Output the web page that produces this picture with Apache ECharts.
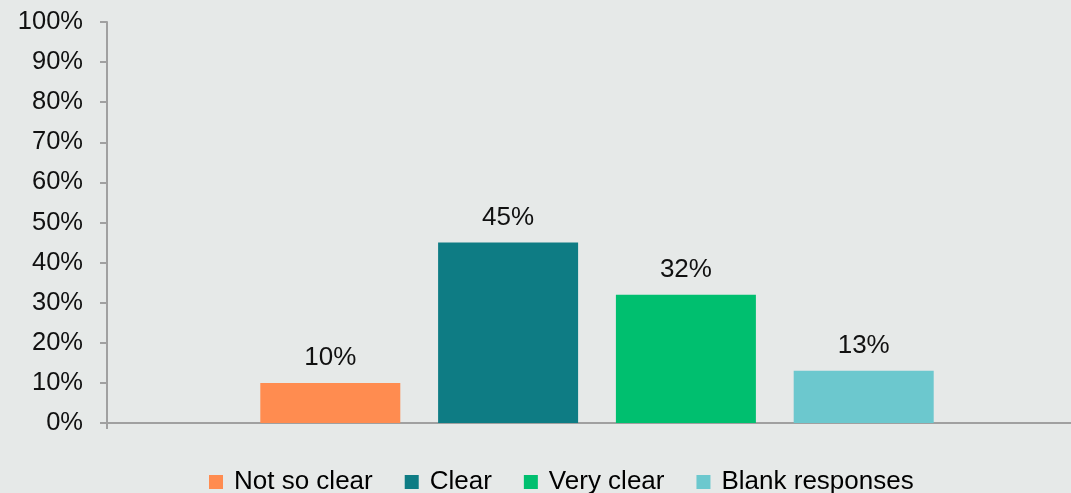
<!DOCTYPE html>
<html>
<head>
<meta charset="utf-8">
<script src="https://cdn.jsdelivr.net/npm/echarts@6/dist/echarts.min.js"></script>
<style>
  html, body { margin: 0; padding: 0; background: #e6e9e8; }
  #chart { width: 1071px; height: 493px; }
</style>
</head>
<body>
<div id="chart"></div>
<script>
  // one category, one series per answer
  var categories = ['']
  var seriesNames = ['Not so clear', 'Clear', 'Very clear', 'Blank responses']
  var seriesValues = [10, 45, 32, 13]
  var seriesColors = ['#ff8c50', '#0e7c84', '#00bf6f', '#6cc8ce']
  var yTicks = [0, 10, 20, 30, 40, 50, 60, 70, 80, 90, 100]

  var myChart = echarts.init(document.getElementById('chart'))
  var font = 'Liberation Sans, Arial, sans-serif'

  var series = seriesNames.map(function (name, i) {
    return {
      name: name,
      type: 'bar',
      data: [seriesValues[i]],
      barWidth: 140,
      barGap: '27%',
      itemStyle: { color: seriesColors[i] },
      label: {
        show: true,
        position: 'top',
        distance: 12,
        formatter: '{c}%',
        color: '#111',
        fontSize: 26,
        fontFamily: font
      }
    }
  })

  var option = {
    backgroundColor: '#e6e9e8',
    animation: false,
    // plot runs a bit past the right edge of the picture
    grid: { left: 107, right: -16, top: 22, bottom: 70, outerBoundsMode: 'none' },
    legend: {
      data: seriesNames,
      top: 464,
      left: 204,
      icon: 'rect',
      itemWidth: 14,
      itemHeight: 14,
      itemGap: 32,
      textStyle: { fontSize: 26, color: '#000', fontFamily: font, padding: [0, 0, 0, 6] }
    },
    xAxis: {
      type: 'category',
      data: categories,
      axisLine: { lineStyle: { color: '#a0a0a0', width: 2 } },
      axisTick: { show: true, length: 6, lineStyle: { color: '#a0a0a0', width: 2 } },
      axisLabel: { show: false }
    },
    yAxis: {
      type: 'value',
      min: yTicks[0],
      max: yTicks[yTicks.length - 1],
      interval: 10,
      axisLine: { show: true, lineStyle: { color: '#a0a0a0', width: 2 } },
      axisTick: { show: true, length: 7, lineStyle: { color: '#a0a0a0', width: 2 } },
      splitLine: { show: false },
      axisLabel: {
        formatter: '{value}%',
        margin: 24,
        color: '#111',
        fontSize: 25.5,
        fontFamily: font
      }
    },
    series: series
  }
  myChart.setOption(option)
</script>
</body>
</html>
